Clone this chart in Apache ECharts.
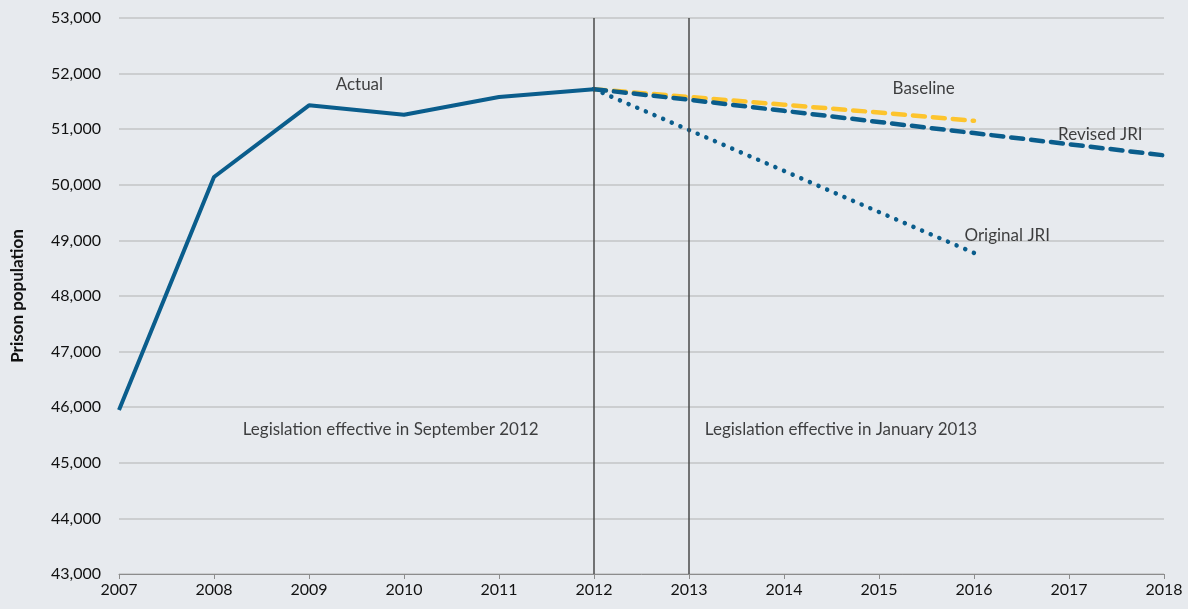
<!DOCTYPE html>
<html><head><meta charset="utf-8">
<script src="https://cdn.jsdelivr.net/npm/echarts@6/dist/echarts.min.js"></script>
<style>html,body{margin:0;padding:0;background:#e7eaee}#c{width:1188px;height:609px}</style>
</head><body><div id="c"></div>
<script>
const years = [2007,2008,2009,2010,2011,2012,2013,2014,2015,2016,2017,2018];
const actual = [[2007,45950],[2008,50140],[2009,51430],[2010,51260],[2011,51580],[2012,51720]];
const baseline = [[2012,51720],[2013,51580],[2014,51440],[2015,51300],[2016,51150]];
const revisedJRI = [[2012,51720],[2013,51530],[2014,51330],[2015,51130],[2016,50930],[2017,50730],[2018,50530]];
const originalJRI = [[2012,51720],[2013,50985],[2014,50250],[2015,49510],[2016,48775]];
const markers = [2012, 2013];
const annotations = [
  [2009.53, 51800, 'Actual'],
  [2015.47, 51740, 'Baseline'],
  [2017.33, 50910, 'Revised JRI'],
  [2016.35, 49080, 'Original JRI'],
  [2009.86, 45590, 'Legislation effective in September 2012'],
  [2014.6, 45590, 'Legislation effective in January 2013']
];
const BLUE = '#0a5d8c', YELLOW = '#fdc42d';
const FONT = 'Lato';
const chart = echarts.init(document.getElementById('c'));
chart.setOption({
  backgroundColor: '#e7eaee',
  animation: false,
  grid: {left: 119, right: 24, top: 18, bottom: 35},
  xAxis: {
    type: 'value', min: 2007, max: 2018, interval: 1,
    axisLine: {show: true, lineStyle: {color: '#8c8c8c', width: 1}},
    axisTick: {show: true, length: 5, lineStyle: {color: '#8c8c8c'}},
    splitLine: {show: false},
    axisLabel: {color: '#111', fontSize: 16, fontFamily: FONT, margin: 8, formatter: v => String(v)}
  },
  yAxis: {
    type: 'value', min: 43000, max: 53000, interval: 1000,
    name: 'Prison population', nameLocation: 'middle', nameGap: 93,
    nameTextStyle: {fontWeight: 'bold', fontSize: 17, fontFamily: FONT, color: '#111'},
    axisLine: {show: false}, axisTick: {show: false},
    splitLine: {lineStyle: {color: '#c3c4c6', width: 1.5}},
    axisLabel: {color: '#111', fontSize: 16, fontFamily: FONT, margin: 18,
      formatter: v => v.toLocaleString('en-US')}
  },
  series: [
    {type: 'line', data: actual, symbol: 'none', lineStyle: {color: BLUE, width: 4}, z: 5,
      markLine: {silent: true, symbol: 'none', label: {show: false},
        lineStyle: {color: '#4a4a4a', width: 1.5, type: 'solid'},
        data: markers.map(m => ({xAxis: m}))}},
    {type: 'line', data: baseline, symbol: 'none', lineStyle: {color: YELLOW, width: 4.5, type: [12, 8], cap: 'round'}, z: 3},
    {type: 'line', data: revisedJRI, symbol: 'none', lineStyle: {color: BLUE, width: 4.5, type: [12, 8], cap: 'round'}, z: 4},
    {type: 'line', data: originalJRI, symbol: 'none', lineStyle: {color: BLUE, width: 4.5, type: [0.1, 9.3], cap: 'round'}, z: 4},
    {type: 'scatter', symbolSize: 0, silent: true, z: 6,
      data: annotations.map(a => ({value: [a[0], a[1]], name: a[2]})),
      label: {show: true, position: 'inside', formatter: p => p.name, color: '#111', fontSize: 17, fontFamily: FONT}}
  ]
});
</script></body></html>
